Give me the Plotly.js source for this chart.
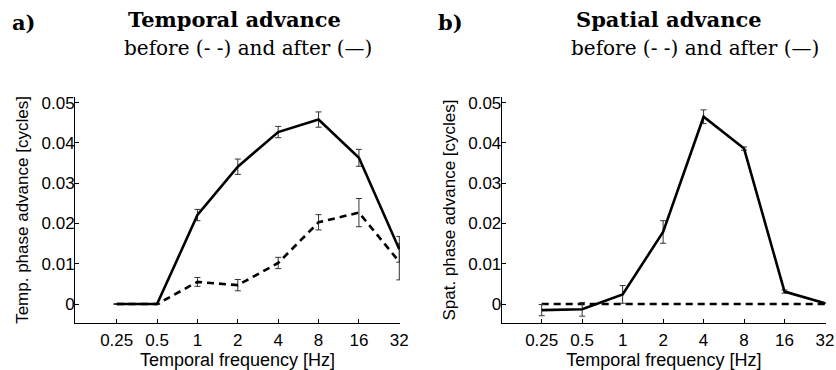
<!DOCTYPE html>
<html>
<head>
<meta charset="utf-8">
<script src="https://cdn.plot.ly/plotly-3.0.1.min.js"></script>
<style>html,body{margin:0;padding:0;background:#fff;}#chart{width:836px;height:370px;}</style>
</head>
<body>
<div id="chart"></div>
<script>
// ---- data ----
const freqs = [0.25, 0.5, 1, 2, 4, 8, 16, 32];
const freqLabels = ['0.25', '0.5', '1', '2', '4', '8', '16', '32'];
const yTicks = [0, 0.01, 0.02, 0.03, 0.04, 0.05];
const yTickLabels = ['0', '0.01', '0.02', '0.03', '0.04', '0.05'];

// a) Temporal advance
const tempAfter = [0, 0, 0.0221, 0.0341, 0.0427, 0.0458, 0.0363, 0.0136];
const tempAfterErr = [0, 0, 0.0014, 0.0019, 0.0014, 0.0019, 0.0021, 0.0032];
const tempBefore = [0, 0, 0.0055, 0.0047, 0.0102, 0.0203, 0.0227, 0.0105];
const tempBeforeErr = [0, 0, 0.0011, 0.0014, 0.0014, 0.0019, 0.0035, 0.0045];

// b) Spatial advance
const spatAfter = [-0.0015, -0.0013, 0.0024, 0.0179, 0.0465, 0.0386, 0.0031, 0.0002];
const spatAfterErr = [0.0014, 0.0017, 0.0022, 0.0028, 0.0017, 0.0004, 0.0004, 0];
const spatBefore = [0, 0, 0, 0, 0, 0, 0, 0];

const W = 836, H = 370;
const px = v => v / W;
const py = v => 1 - v / H;

const solid = {color: '#000', width: 2.6};
const dashed = {color: '#000', width: 2.6, dash: '7px,5px'};
const errStyle = arr => ({type: 'data', array: arr, visible: true, color: '#333', thickness: 1, width: 3});

const traces = [
  {x: freqs, y: tempBefore, type: 'scatter', mode: 'lines', line: dashed, error_y: errStyle(tempBeforeErr), xaxis: 'x', yaxis: 'y', showlegend: false},
  {x: freqs, y: tempAfter, type: 'scatter', mode: 'lines', line: solid, error_y: errStyle(tempAfterErr), xaxis: 'x', yaxis: 'y', showlegend: false},
  {x: freqs, y: spatBefore, type: 'scatter', mode: 'lines', line: dashed, xaxis: 'x2', yaxis: 'y2', showlegend: false},
  {x: freqs, y: spatAfter, type: 'scatter', mode: 'lines', line: solid, error_y: errStyle(spatAfterErr), xaxis: 'x2', yaxis: 'y2', showlegend: false}
];

const tickFont = {family: 'Liberation Sans, Arial, sans-serif', size: 17, color: '#000'};
const xTitleFont = {family: 'Liberation Sans, Arial, sans-serif', size: 18, color: '#000'};
const baseX = {
  type: 'log', tickvals: freqs, ticktext: freqLabels, showline: true, linecolor: '#000', linewidth: 1,
  ticks: 'inside', ticklen: 4, tickcolor: '#000', showgrid: false, zeroline: false, mirror: false,
  tickfont: tickFont, fixedrange: true, ticklabelstandoff: 2,
  title: {text: 'Temporal frequency [Hz]', font: xTitleFont, standoff: 0}
};
const baseY = {
  range: [-0.0047, 0.0514], tickvals: yTicks, ticktext: yTickLabels, showline: true, linecolor: '#000', linewidth: 1,
  ticks: 'inside', ticklen: 4, tickcolor: '#000', showgrid: false, zeroline: false, mirror: false,
  tickfont: tickFont, fixedrange: true, domain: [py(323), py(97)], ticklabelstandoff: -4
};

const serif = 'DejaVu Serif, serif';
const ann = (x, y, text, size) => ({xref: 'paper', yref: 'paper', x: px(x), y: py(y), xanchor: 'center', yanchor: 'middle',
  text: text, showarrow: false, font: {family: serif, size: size, color: '#000'}});

const layout = {
  width: W, height: H,
  margin: {l: 0, r: 0, t: 0, b: 0},
  paper_bgcolor: '#fff', plot_bgcolor: '#fff',
  xaxis: Object.assign({}, baseX, {domain: [px(75), px(400)], range: [-0.913, 1.5104], anchor: 'y'}),
  yaxis: Object.assign({}, baseY, {anchor: 'x', title: {text: 'Temp. phase advance [cycles]', font: tickFont, standoff: 8}}),
  xaxis2: Object.assign({}, baseX, {domain: [px(501.7), px(826)], range: [-0.8996, 1.5126], anchor: 'y2'}),
  yaxis2: Object.assign({}, baseY, {anchor: 'x2', title: {text: 'Spat. phase advance [cycles]', font: tickFont, standoff: 8}}),
  annotations: [
    ann(24, 22, '<b>a)</b>', 21),
    ann(234, 19, '<b>Temporal advance</b>', 21),
    ann(248, 48, 'before (- -) and after (—)', 20),
    ann(450, 22, '<b>b)</b>', 21),
    ann(669, 19, '<b>Spatial advance</b>', 21),
    ann(695, 48, 'before (- -) and after (—)', 20)
  ]
};

Plotly.newPlot('chart', traces, layout, {staticPlot: true, displayModeBar: false});
</script>
</body>
</html>
